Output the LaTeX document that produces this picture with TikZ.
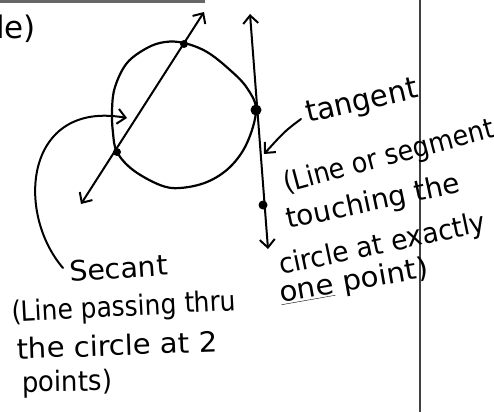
\documentclass[tikz,border=0pt]{standalone}
\usepackage{fontspec}
\usepackage{graphicx}
\setmainfont{DejaVu Sans}
\usetikzlibrary{arrows.meta}
\newcommand{\hx}[2]{\scalebox{#1}[1]{#2}}
\begin{document}
\begin{tikzpicture}[x=1pt,y=-1pt,
  >={Straight Barb[length=8pt,width=15pt,line width=2pt]},
  pen/.style={line width=2pt, line cap=round, line join=round},
  dot/.style={circle, fill, inner sep=0pt, minimum size=#1},
  hand/.style={font=\fontsize{#1}{#1}\selectfont, inner sep=0pt, anchor=base west}]
\useasboundingbox (0,0) rectangle (494,412);
% frame lines
\draw[line width=3pt, black!60] (0,1.5) -- (205,1.5);
\draw[line width=2pt, black!75] (420,0) -- (420,412);
\node[hand=31] (le) at (-4,38) {le)};
% circle
\draw[pen, line width=2.2pt] plot[smooth cycle, tension=0.6] coordinates {
 (112,110) (115,87) (127,63) (147,48) (165,42) (184,43) (207,52) (230,70)
 (247,88) (256,110) (247,143) (230,167) (207,182) (180,188) (160,185)
 (133,170) (117,152) (113,133)};
% points
\node[dot=8pt] (s1) at (184,44) {};
\node[dot=8pt] (s2) at (117,152) {};
\node[dot=11pt] (t1) at (256,110) {};
\node[dot=9pt] (t2) at (263,205) {};
% secant line
\coordinate (secTop) at (204,12);
\coordinate (secBot) at (81,204);
\draw[pen, <->] (secBot) -- (secTop);
% tangent line
\coordinate (tanTop) at (250,14);
\coordinate (tanBot) at (268,249);
\draw[pen, <->] (tanBot) -- (tanTop);
% tangent pointer
\coordinate (tp0) at (301,119);
\coordinate (tp1) at (264,154);
\draw[pen, ->] (tp0) .. controls (285,131) .. (tp1);
% secant pointer
\coordinate (sp0) at (63,268);
\coordinate (sp1) at (127,118);
\draw[pen, ->] (sp0) .. controls (15,212) and (25,100) .. (sp1);
% tangent labels
\node[hand=30, rotate=13] (tg) at (308,123) {\hx{0.97}{tangent}};
\node[hand=28, rotate=15] (tl1) at (286,193) {\hx{0.91}{(Line or segment}};
\node[hand=28, rotate=12] (tl2) at (288,229) {\hx{1.0}{touching the}};
\node[hand=28, rotate=12] (tl3) at (281,275) {\hx{0.95}{circle at exactly}};
\node[hand=28, rotate=10] (tl4) at (281,303) {\hx{1.05}{\underline{one} point)}};
% secant labels
\node[hand=28, rotate=4] (sc) at (70,282) {\hx{1.02}{Secant}};
\node[hand=28, rotate=3] (sl1) at (12,322) {\hx{0.89}{(Line passing thru}};
\node[hand=28, rotate=2] (sl2) at (17,359) {\hx{1.04}{the circle at 2}};
\node[hand=28, rotate=1] (sl3) at (22,392) {\hx{0.93}{points)}};
\end{tikzpicture}
\end{document}
